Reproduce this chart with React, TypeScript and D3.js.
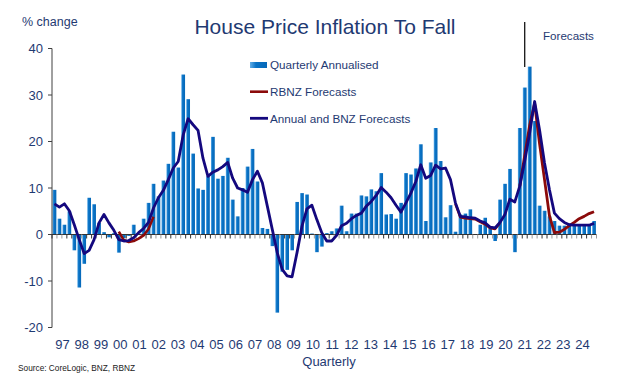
import React from "react";
import * as d3 from "d3";

const quarterly = [
  9.6, 3.4, 2.1, 5.0, -3.4, -11.4, -6.3, 7.9, 6.5, 2.5, 0.5, -0.6, 0.3, -3.9, -0.8, -0.3, 2.1, 0.2, 3.4,
  6.8, 10.9, 8.2, 11.6, 15.2, 22.1, 14.4, 34.4, 29.1, 17.4, 9.9, 9.6, 12.5, 21.0, 12.0, 12.6, 16.5, 7.5, 3.9,
  10.0, 14.6, 18.4, 11.4, 1.4, 1.2, -2.5, -16.8, -8.0, -7.6, -3.4, 7.0, 8.9, 8.6, 0.2, -3.8, -2.6, 0.3, 0.7,
  1.3, 6.2, 0.7, 4.5, 4.5, 8.4, 8.2, 9.7, 9.3, 13.2, 4.3, 4.4, 3.4, 6.8, 13.2, 12.9, 14.2, 19.4, 2.9, 15.5,
  22.9, 15.8, 3.7, 6.3, 0.6, 4.3, 4.5, 5.4, 0.1, 2.1, 3.6, 1.6, -1.4, 7.5, 10.9, 14.1, -3.8, 22.9, 31.6, 36.1,
  24.4, 6.2, 5.1, 3.9, 2.9, 1.9, 1.9, 2.1, 2.1, 2.0, 2.0, 2.0, 2.9,
];

const annualBNZ = [
  6.6, 5.9, 6.6, 5.1, 2.1, -1.1, -4.1, -3.4, -1.1, 2.5, 4.3, 2.5, 0.9, -1.1, -1.4, -1.3, -0.7, 0.4, 1.3,
  2.6, 5.7, 7.9, 9.5, 11.8, 14.3, 15.7, 21.4, 24.9, 23.6, 22.4, 16.4, 12.5, 13.4, 13.9, 14.6, 15.5, 12.1, 10.0,
  9.6, 9.1, 11.8, 13.6, 11.1, 6.1, 1.1, -3.9, -7.5, -8.9, -9.1, -3.9, 1.8, 5.5, 6.3, 3.2, 0.4, -1.4, -1.4,
  -0.2, 1.9, 2.4, 3.4, 4.1, 4.6, 6.1, 7.1, 8.4, 10.1, 9.1, 7.9, 6.3, 4.8, 6.8, 8.9, 11.4, 15.0, 12.1, 12.7,
  14.9, 14.1, 14.3, 11.8, 6.8, 3.9, 3.8, 3.6, 3.5, 2.9, 2.5, 1.6, 1.4, 2.6, 4.3, 7.6, 7.0, 10.4, 15.8, 21.8,
  28.6, 22.5, 15.4, 9.6, 4.6, 3.4, 2.6, 2.1, 2.0, 2.0, 2.0, 2.0, 2.4,
];

// RBNZ forecast segments: [start quarter index, values]
const rbnzStartA = 13;
const rbnzA = [0.6, -1.2, -1.6, -1.4, -0.9, -0.2, 1.2, 3.8];
const rbnzStartB = 81;
const rbnzB = [6.6, 3.7, 3.5, 3.4, 3.3, 2.7, 2.2, 1.4, 1.2, 2.5];
const rbnzStartC = 94;
const rbnzC = [10.4, 17.0, 23.5, 28.2, 19.5, 11.8, 4.0, 0.4, 0.5, 1.1, 1.9, 2.6, 3.4, 3.9, 4.5, 4.9];

const yearLabels = [
  "97", "98", "99", "00", "01", "02", "03", "04", "05", "06", "07", "08", "09", "10",
  "11", "12", "13", "14", "15", "16", "17", "18", "19", "20", "21", "22", "23", "24",
];
const yTicks = [40, 30, 20, 10, 0, -10, -20];
const forecastIndex = 95;

const FONT = "'Liberation Sans', Arial, sans-serif";
const TEXT = "#1F3A72";

export default function App() {
  const W = 637;
  const H = 381;
  const x0 = 52;
  const x1 = 596.5;
  const idx = d3.range(quarterly.length);
  const x = d3.scaleBand<number>().domain(idx).range([x0, x1]).paddingInner(0.24).paddingOuter(0.12);
  const step = x.step();
  const bw = x.bandwidth();
  const cx = (i: number) => (x(i) as number) + bw / 2;
  const y = d3.scaleLinear().domain([-20, 40]).range([327.5, 48.5]);
  const xLab = d3.scaleLinear().domain([0, yearLabels.length - 1]).range([62.5, 582.5]);

  const line = d3
    .line<number>()
    .x((_, i) => cx(i))
    .y((d) => y(d));

  const seg = (start: number, vals: number[]) =>
    d3
      .line<number>()
      .x((_, i) => cx(start + i))
      .y((d) => y(d))(vals) as string;

  const zeroY = y(0);
  const boundaries = d3.range(quarterly.length + 1).map((i) => x0 + i * step);

  return (
    <svg
      width={W}
      height={H}
      style={{ position: "fixed", left: 0, top: 0, background: "#fff" }}
      fontFamily={FONT}
    >
      <defs>
        <linearGradient id="barGrad" x1="0" x2="1" y1="0" y2="0">
          <stop offset="0%" stopColor="#62AEE8" />
          <stop offset="35%" stopColor="#0A73C6" />
          <stop offset="100%" stopColor="#0668B8" />
        </linearGradient>
      </defs>
      <rect x={0} y={0} width={W} height={H} fill="#fff" />

      {/* title */}
      <text x={325} y={34} textAnchor="middle" fontSize={21} fill={TEXT}>
        House Price Inflation To Fall
      </text>
      <text x={22} y={26} fontSize={12.5} fill={TEXT}>
        % change
      </text>
      <text x={543} y={40} fontSize={11.6} fill={TEXT}>
        Forecasts
      </text>

      {/* bars */}
      {quarterly.map((v, i) => (
        <rect
          key={i}
          x={x(i)}
          y={Math.min(y(v), zeroY)}
          width={bw}
          height={Math.abs(y(v) - zeroY)}
          fill="url(#barGrad)"
        />
      ))}

      {/* y axis */}
      <line x1={x0} x2={x0} y1={y(40)} y2={y(-20)} stroke="#404040" strokeWidth={1} />
      {yTicks.map((t) => (
        <g key={t}>
          <line x1={x0 - 4} x2={x0} y1={y(t)} y2={y(t)} stroke="#404040" strokeWidth={1} />
          <text x={43} y={y(t) + 4.5} textAnchor="end" fontSize={13} fill={TEXT}>
            {t}
          </text>
        </g>
      ))}

      {/* zero axis with quarter ticks */}
      <line x1={x0} x2={x1} y1={zeroY} y2={zeroY} stroke="#333" strokeWidth={1} />
      {boundaries.map((bx, i) => (
        <line
          key={i}
          x1={bx}
          x2={bx}
          y1={zeroY}
          y2={zeroY + 4}
          stroke={i % 4 === 1 || i % 4 === 2 ? "#9a9a9a" : "#333"}
          strokeWidth={1}
        />
      ))}

      {/* lines */}
      <path d={seg(rbnzStartA, rbnzA)} fill="none" stroke="#8B0A0A" strokeWidth={2.6} strokeLinejoin="round" />
      <path d={seg(rbnzStartB, rbnzB)} fill="none" stroke="#8B0A0A" strokeWidth={2.6} strokeLinejoin="round" />
      <path d={seg(rbnzStartC, rbnzC)} fill="none" stroke="#8B0A0A" strokeWidth={2.8} strokeLinejoin="round" />
      <path d={line(annualBNZ) as string} fill="none" stroke="#14087E" strokeWidth={2.8} strokeLinejoin="round" />

      {/* forecast marker */}
      <line x1={cx(forecastIndex)} x2={cx(forecastIndex)} y1={22} y2={67} stroke="#000" strokeWidth={1.2} />

      {/* x labels */}
      {yearLabels.map((lab, k) => (
        <text key={lab} x={xLab(k)} y={349} textAnchor="middle" fontSize={13} fill={TEXT}>
          {lab}
        </text>
      ))}
      <text x={329} y={366} textAnchor="middle" fontSize={13} fill={TEXT}>
        Quarterly
      </text>
      <text x={18} y={371} fontSize={9.5} fill="#222" textLength={117} lengthAdjust="spacingAndGlyphs">
        Source: CoreLogic, BNZ, RBNZ
      </text>

      {/* legend */}
      <rect x={250} y={62} width={17} height={6} fill="url(#barGrad)" />
      <text x={270} y={69} fontSize={11.7} fill={TEXT}>
        Quarterly Annualised
      </text>
      <line x1={250} x2={268} y1={91.7} y2={91.7} stroke="#8B0A0A" strokeWidth={2.6} />
      <text x={270} y={96} fontSize={11.7} fill={TEXT}>
        RBNZ Forecasts
      </text>
      <line x1={250} x2={268} y1={118.3} y2={118.3} stroke="#14087E" strokeWidth={2.8} />
      <text x={270} y={122.5} fontSize={11.7} fill={TEXT}>
        Annual and BNZ Forecasts
      </text>
    </svg>
  );
}
